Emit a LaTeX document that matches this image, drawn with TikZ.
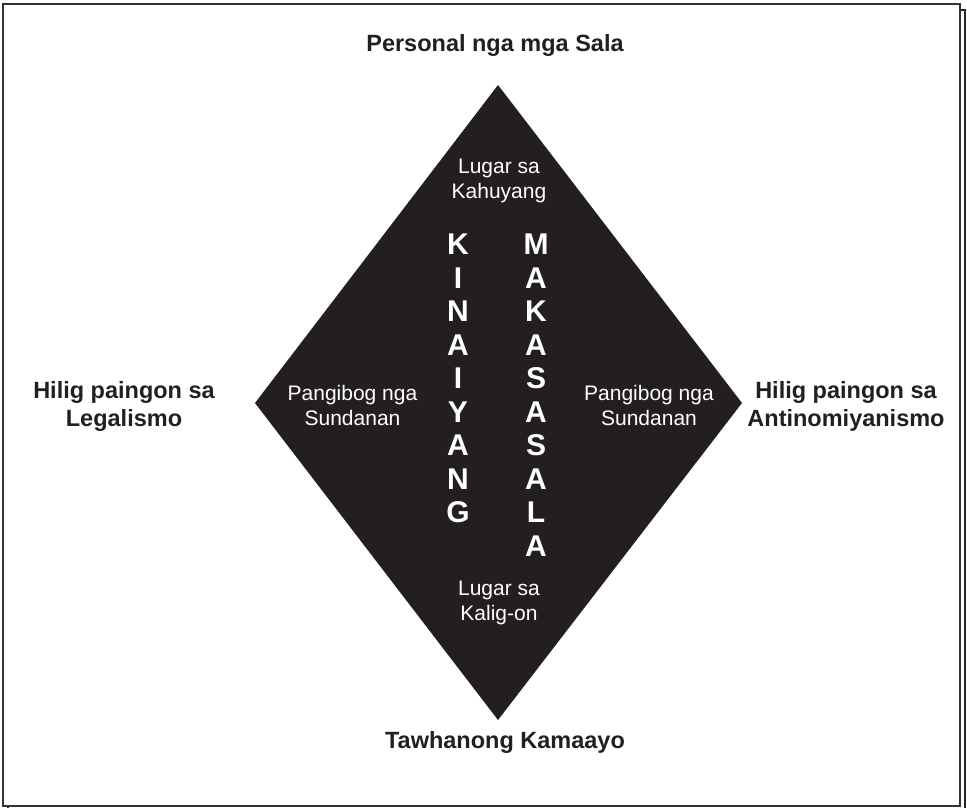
\documentclass[tikz,border=0pt]{standalone}
\usepackage{fontspec}
\setmainfont{Liberation Sans}
\definecolor{ink}{RGB}{35,31,32}
\begin{document}
\begin{tikzpicture}[x=1pt,y=-1pt,
  lbl/.style={inner sep=0pt,anchor=base,text=ink,font=\fontsize{23.5}{28}\selectfont\bfseries},
  wlbl/.style={inner sep=0pt,anchor=base,text=white,font=\fontsize{21}{25}\selectfont},
  vlet/.style={inner sep=0pt,anchor=base,text=white,font=\fontsize{30}{33}\selectfont\bfseries},
  framebox/.style={draw=black!80,line width=2pt},
  shadowline/.style={draw=black!85,line width=1.3pt}]
\useasboundingbox (0,0) rectangle (967,808);
% shadow frame
\draw[shadowline] (960,10) -- (965,10) -- (965,809) -- (8,809) -- (8,807);
% main frame
\draw[framebox] (3,4) rectangle (960,806);
% diamond
\coordinate (dT) at (498,85);
\coordinate (dR) at (742,403);
\coordinate (dB) at (498,720);
\coordinate (dL) at (255,403);
\fill[ink] (dT) -- (dR) -- (dB) -- (dL) -- cycle;
% outer labels
\node[lbl] (top) at (495,51.7) {Personal nga mga Sala};
\node[lbl] (left1) at (124,398.3) {Hilig paingon sa};
\node[lbl] (left2) at (124,426.7) {Legalismo};
\node[lbl] (right1) at (846,398.3) {Hilig paingon sa};
\node[lbl] (right2) at (846,426.7) {Antinomiyanismo};
\node[lbl] (bottom) at (505,748.3) {Tawhanong Kamaayo};
% inner labels
\node[wlbl] (wt1) at (499,173) {Lugar sa};
\node[wlbl] (wt2) at (499,198.5) {Kahuyang};
\node[wlbl] (wl1) at (352.5,400) {Pangibog nga};
\node[wlbl] (wl2) at (352.5,425.5) {Sundanan};
\node[wlbl] (wr1) at (649,400) {Pangibog nga};
\node[wlbl] (wr2) at (649,425.5) {Sundanan};
\node[wlbl] (wb1) at (499,595) {Lugar sa};
\node[wlbl] (wb2) at (499,620.5) {Kalig-on};
% vertical words
\foreach \ch [count=\i from 0] in {K,I,N,A,I,Y,A,N,G}
  \node[vlet] (k\i) at (458,254.8+33.5*\i) {\ch};
\foreach \ch [count=\i from 0] in {M,A,K,A,S,A,S,A,L,A}
  \node[vlet] (m\i) at (536,254.8+33.5*\i) {\ch};
\end{tikzpicture}
\end{document}
